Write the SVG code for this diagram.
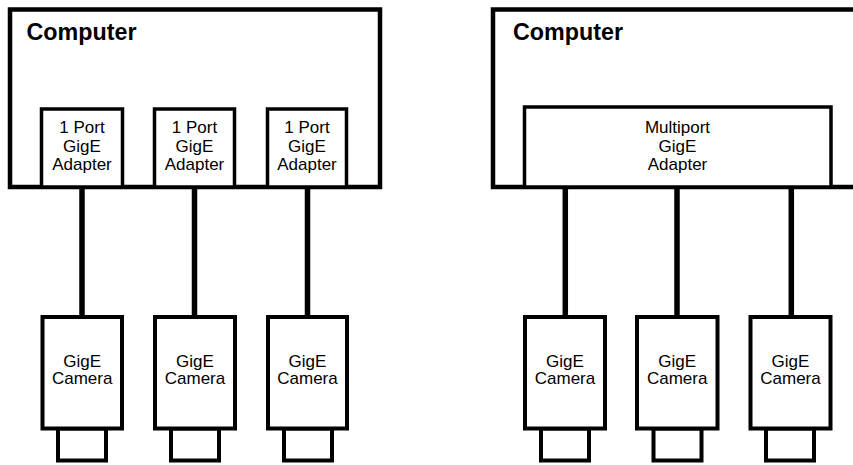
<svg xmlns="http://www.w3.org/2000/svg" width="853" height="465" viewBox="0 0 853 465">
<style>
.box{fill:#fff;stroke:#000;stroke-width:4.5}
.ad{fill:#fff;stroke:#000;stroke-width:3.5}
.cam{fill:#fff;stroke:#000;stroke-width:4}
.wire{stroke:#000;stroke-width:5.5;fill:none}
.t{font-family:"Liberation Sans",Arial,sans-serif;font-size:17px;text-anchor:middle;fill:#000}
.h{font-family:"Liberation Sans",Arial,sans-serif;font-size:23.3px;font-weight:bold;fill:#000}
</style>
<rect width="853" height="465" fill="#fff"/>
<g id="computer-left">
<rect class="box" x="10" y="9.5" width="370" height="177.5"/>
<text class="h" x="26.5" y="39.5">Computer</text>
</g>
<g id="adapter-1">
<rect class="ad" x="41.5" y="109" width="81" height="78"/>
<text class="t" x="82" y="133.3">1 Port</text>
<text class="t" x="82" y="151.7">GigE</text>
<text class="t" x="82" y="170">Adapter</text>
</g>
<g id="adapter-2">
<rect class="ad" x="154.5" y="109" width="80" height="78"/>
<text class="t" x="194.5" y="133.3">1 Port</text>
<text class="t" x="194.5" y="151.7">GigE</text>
<text class="t" x="194.5" y="170">Adapter</text>
</g>
<g id="adapter-3">
<rect class="ad" x="267.5" y="109" width="79" height="78"/>
<text class="t" x="307" y="133.3">1 Port</text>
<text class="t" x="307" y="151.7">GigE</text>
<text class="t" x="307" y="170">Adapter</text>
</g>
<g id="computer-right">
<rect class="box" x="493" y="9.5" width="380" height="177.5"/>
<text class="h" x="513" y="39.5">Computer</text>
</g>
<g id="multiport-adapter">
<rect class="ad" x="524.5" y="107" width="306.5" height="80"/>
<text class="t" x="677.5" y="133.3">Multiport</text>
<text class="t" x="677.5" y="151.7">GigE</text>
<text class="t" x="677.5" y="170">Adapter</text>
</g>
<g id="connectors">
<line class="wire" x1="82" y1="187" x2="82" y2="317"/>
<line class="wire" x1="194.5" y1="187" x2="194.5" y2="317"/>
<line class="wire" x1="307.5" y1="187" x2="307.5" y2="317"/>
<line class="wire" x1="565.3" y1="187" x2="565.3" y2="317"/>
<line class="wire" x1="677" y1="187" x2="677" y2="317"/>
<line class="wire" x1="791.3" y1="187" x2="791.3" y2="317"/>
</g>
<g id="camera-1">
<rect class="cam" x="58" y="428.5" width="48" height="32"/>
<rect class="cam" x="42.5" y="317" width="79.5" height="111.5"/>
<text class="t" x="82.2" y="366.7">GigE</text>
<text class="t" x="82.2" y="384">Camera</text>
</g>
<g id="camera-2">
<rect class="cam" x="171" y="428.5" width="48" height="32"/>
<rect class="cam" x="155" y="317" width="80" height="111.5"/>
<text class="t" x="195" y="366.7">GigE</text>
<text class="t" x="195" y="384">Camera</text>
</g>
<g id="camera-3">
<rect class="cam" x="284" y="428.5" width="48" height="32"/>
<rect class="cam" x="268" y="317" width="79" height="111.5"/>
<text class="t" x="307.5" y="366.7">GigE</text>
<text class="t" x="307.5" y="384">Camera</text>
</g>
<g id="camera-4">
<rect class="cam" x="541" y="428.5" width="48" height="32"/>
<rect class="cam" x="525" y="317" width="80" height="111.5"/>
<text class="t" x="565" y="366.7">GigE</text>
<text class="t" x="565" y="384">Camera</text>
</g>
<g id="camera-5">
<rect class="cam" x="653.5" y="428.5" width="48" height="32"/>
<rect class="cam" x="637" y="317" width="80.5" height="111.5"/>
<text class="t" x="677.2" y="366.7">GigE</text>
<text class="t" x="677.2" y="384">Camera</text>
</g>
<g id="camera-6">
<rect class="cam" x="766" y="428.5" width="48" height="32"/>
<rect class="cam" x="750.5" y="317" width="80" height="111.5"/>
<text class="t" x="790.5" y="366.7">GigE</text>
<text class="t" x="790.5" y="384">Camera</text>
</g>
</svg>
